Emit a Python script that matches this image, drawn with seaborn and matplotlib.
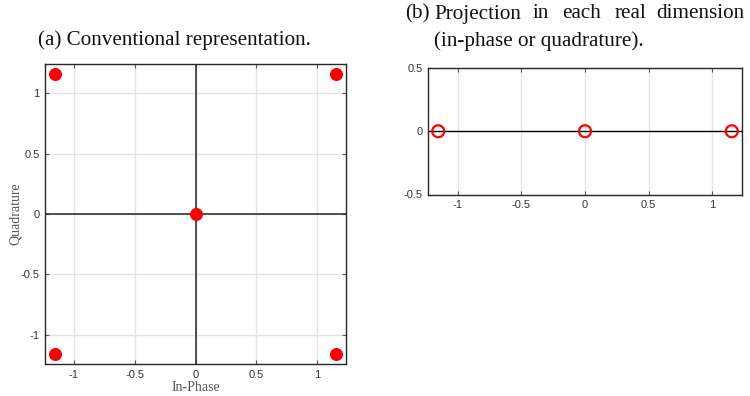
import matplotlib
matplotlib.use("Agg")
import matplotlib.pyplot as plt
import seaborn as sns
import pandas as pd

# Data
const_inphase = [-1.1547, 1.1547, 0.0, -1.1547, 1.1547]
const_quad = [1.1547, 1.1547, 0.0, -1.1547, -1.1547]
proj_inphase = [-1.1547, 0.0, 1.1547]
proj_zero = [0.0, 0.0, 0.0]
ticks_main = [-1, -0.5, 0, 0.5, 1]
tick_labels_main = ["-1", "-0.5", "0", "0.5", "1"]
ticks_proj_y = [-0.5, 0, 0.5]
tick_labels_proj_y = ["-0.5", "0", "0.5"]

sns.set_style("white")
plt.rcParams["font.family"] = ["Liberation Sans", "DejaVu Sans"]

fig = plt.figure(figsize=(7.5, 3.96), dpi=100)
ax1 = fig.add_axes([45/750, 1-364/396, 301/750, 300/396])
ax2 = fig.add_axes([428/750, 1-194.5/396, 314/750, 126.5/396])

grid_c = "#e3e3e3"
spine_c = "#262626"
tick_c = "#333333"

def style(ax):
    ax.grid(True, color=grid_c, linewidth=1.0)
    ax.set_axisbelow(True)
    for s in ax.spines.values():
        s.set_color(spine_c)
        s.set_linewidth(1.0)
        s.set_visible(True)
    ax.tick_params(direction="in", length=3, width=0.8, color="#555555",
                   labelsize=8, labelcolor=tick_c, top=True, right=True,
                   left=True, bottom=True, pad=4)

df1 = pd.DataFrame({"I": const_inphase, "Q": const_quad})
ax1.axhline(0, color="#333333", linewidth=1.2, zorder=1.5)
ax1.axvline(0, color="#333333", linewidth=1.2, zorder=1.5)
sns.scatterplot(data=df1, x="I", y="Q", ax=ax1, color="#ff0000", s=88,
                edgecolor="#ff0000", linewidth=0, zorder=3)
ax1.set_xlim(-1.235, 1.235)
ax1.set_ylim(-1.24, 1.24)
ax1.set_xticks(ticks_main, tick_labels_main)
ax1.set_yticks(ticks_main, tick_labels_main)
style(ax1)
ax1.set_xlabel("In-Phase", family=["Liberation Serif"], fontsize=10, color="#555555", labelpad=1)
ax1.set_ylabel("Quadrature", family=["Liberation Serif"], fontsize=10, color="#555555")
ax1.yaxis.set_label_coords(-30/301, 0.5)
ax1.yaxis.label.set_verticalalignment("center")

df2 = pd.DataFrame({"I": proj_inphase, "Z": proj_zero})
ax2.axhline(0, color="black", linewidth=1.0, zorder=1.5)
sns.scatterplot(data=df2, x="I", y="Z", ax=ax2, s=74, facecolor="none",
                edgecolor="#ff0000", linewidth=1.6, zorder=3)
ax2.set_xlim(-1.235, 1.235)
ax2.set_ylim(-0.5, 0.5)
ax2.set_xticks(ticks_main, tick_labels_main)
ax2.set_yticks(ticks_proj_y, tick_labels_proj_y)
style(ax2)
ax2.set_xlabel("")
ax2.set_ylabel("")

serif = ["Liberation Serif", "DejaVu Serif"]
tsize = 15.2
fig.text(38/750, 1-40/396, "(a) Conventional representation.", family=serif,
         fontsize=tsize, ha="left", va="center", color="#111111")

words = [("(b)", 405), ("Projection", 434), ("in", 533), ("each", 562),
         ("real", 615), ("dimension", 656)]
for w, x in words:
    fig.text(x/750, 1-14/396, w, family=serif, fontsize=tsize, ha="left",
             va="center", color="#111111")
fig.text(434/750, 1-41/396, "(in-phase or quadrature).", family=serif,
         fontsize=tsize, ha="left", va="center", color="#111111")

fig.savefig("out.png", dpi=100)
